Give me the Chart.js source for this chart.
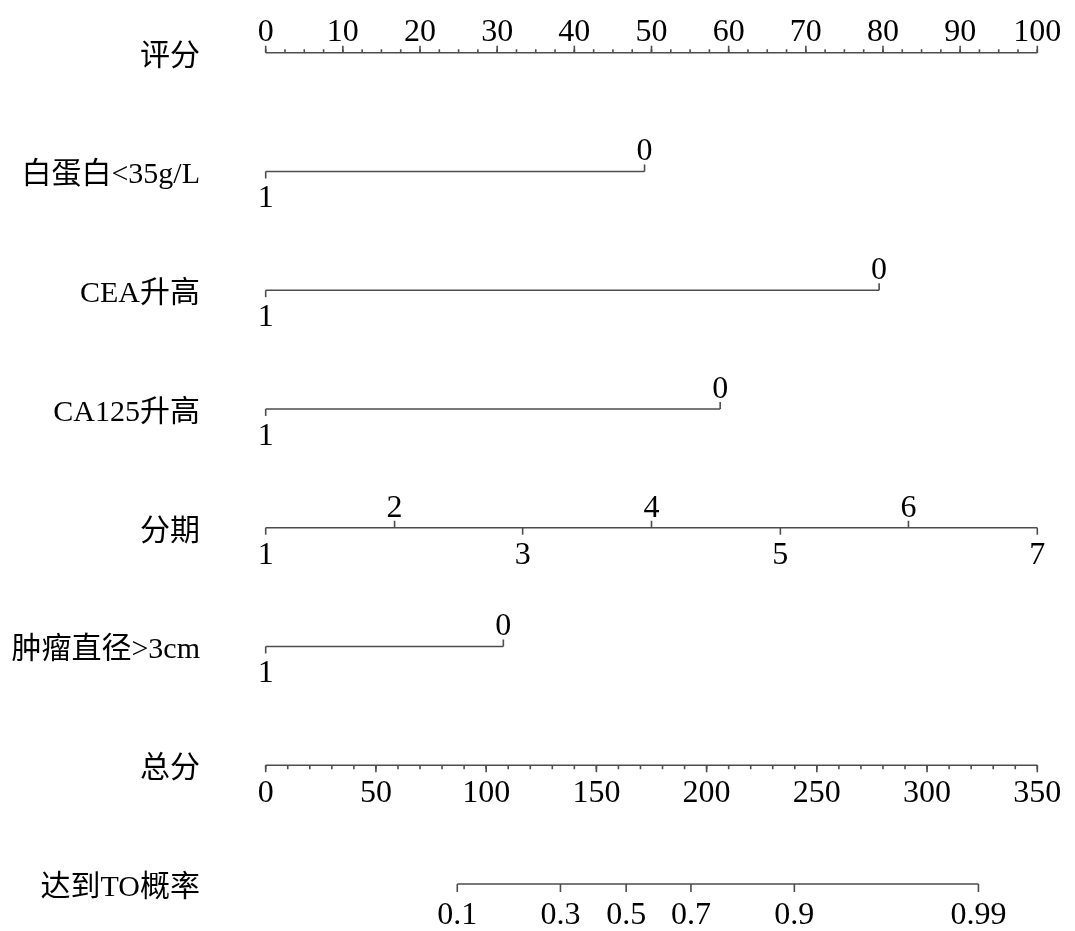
<!DOCTYPE html>
<html>
<head>
<meta charset="utf-8">
<script src="https://cdn.jsdelivr.net/npm/chart.js@4.4.1/dist/chart.umd.min.js"></script>
<style>
	body { margin: 0; background: #fff; }
	#nomogram { display: block; }
</style>
</head>
<body>
<canvas id="nomogram" width="1075" height="931"></canvas>
<script>
	// rows of the nomogram, top to bottom
	const rowNames = ["评分", "白蛋白<35g/L", "CEA升高", "CA125升高", "分期", "肿瘤直径>3cm", "总分", "达到TO概率"];

	// points scale
	const pointTicks = [0, 10, 20, 30, 40, 50, 60, 70, 80, 90, 100];
	const pointMinorStep = 2.5;

	// predictors: level labels and the points they give
	const albuminLevels = ["1", "0"];
	const albuminPoints = [0, 49.1];
	const ceaLevels = ["1", "0"];
	const ceaPoints = [0, 79.5];
	const ca125Levels = ["1", "0"];
	const ca125Points = [0, 58.9];
	const stageLevels = ["1", "2", "3", "4", "5", "6", "7"];
	const stagePoints = [0, 16.7, 33.3, 50, 66.7, 83.3, 100];
	const tumorLevels = ["1", "0"];
	const tumorPoints = [0, 30.8];

	// total points scale
	const totalTicks = [0, 50, 100, 150, 200, 250, 300, 350];
	const totalMinorStep = 10;

	// probability scale, placed on total points
	const probLabels = ["0.1", "0.3", "0.5", "0.7", "0.9", "0.99"];
	const probTotalPoints = [86.9, 133.7, 163.5, 192.9, 239.8, 323.3];

	const predictors = [
		{ row: 1, levels: albuminLevels, points: albuminPoints },
		{ row: 2, levels: ceaLevels, points: ceaPoints },
		{ row: 3, levels: ca125Levels, points: ca125Points },
		{ row: 4, levels: stageLevels, points: stagePoints },
		{ row: 5, levels: tumorLevels, points: tumorPoints },
	];

	const lineColor = "#4d4d4d";
	const textColor = "#000";
	const numFont = '32px "Liberation Serif", serif';
	const nameFont = '30px "Liberation Serif", "Noto Sans CJK SC", serif';

	function segment(xs, row, axis) {
		return {
			data: [
				{ x: Math.min(...xs), y: row },
				{ x: Math.max(...xs), y: row },
			],
			xAxisID: axis,
			borderColor: lineColor,
			borderWidth: 1.6,
			pointRadius: 0,
			showLine: true,
			clip: false,
		};
	}

	const datasets = [segment(pointTicks, 0, "x")];
	predictors.forEach((p) => datasets.push(segment(p.points, p.row, "x")));
	datasets.push(segment(totalTicks, 6, "xTotal"));
	datasets.push(segment(probTotalPoints, 7, "xTotal"));

	function tick(ctx, px, py, len) {
		ctx.beginPath();
		ctx.moveTo(px, py);
		ctx.lineTo(px, py + len);
		ctx.stroke();
	}

	const nomogramMarks = {
		id: "nomogramMarks",
		afterDatasetsDraw(chart) {
			const { ctx } = chart;
			const x = chart.scales.x;
			const xt = chart.scales.xTotal;
			const y = chart.scales.y;

			ctx.save();
			ctx.strokeStyle = lineColor;
			ctx.lineWidth = 1.6;
			ctx.fillStyle = textColor;
			ctx.textAlign = "center";
			ctx.textBaseline = "alphabetic";
			ctx.font = numFont;

			// points scale: ticks up, labels above
			let py = y.getPixelForValue(0);
			for (let v = 0; v <= 100; v += pointMinorStep) {
				tick(ctx, x.getPixelForValue(v), py, -3.5);
			}
			pointTicks.forEach((v) => {
				const px = x.getPixelForValue(v);
				tick(ctx, px, py, -7);
				ctx.fillText(String(v), px, py - 12);
			});

			// predictors: levels alternate below / above the line
			predictors.forEach((p) => {
				const ry = y.getPixelForValue(p.row);
				p.levels.forEach((lab, i) => {
					const px = x.getPixelForValue(p.points[i]);
					if (i % 2 === 0) {
						tick(ctx, px, ry, 7);
						ctx.fillText(lab, px, ry + 36);
					} else {
						tick(ctx, px, ry, -7);
						ctx.fillText(lab, px, ry - 11);
					}
				});
			});

			// total points: ticks down, labels below
			py = y.getPixelForValue(6);
			for (let v = 0; v <= 350; v += totalMinorStep) {
				tick(ctx, xt.getPixelForValue(v), py, 4);
			}
			totalTicks.forEach((v) => {
				const px = xt.getPixelForValue(v);
				tick(ctx, px, py, 7);
				ctx.fillText(String(v), px, py + 37);
			});

			// probability
			py = y.getPixelForValue(7);
			probLabels.forEach((lab, i) => {
				const px = xt.getPixelForValue(probTotalPoints[i]);
				tick(ctx, px, py, 8);
				ctx.fillText(lab, px, py + 40);
			});

			// row names
			ctx.font = nameFont;
			ctx.textAlign = "right";
			ctx.textBaseline = "middle";
			rowNames.forEach((name, i) => {
				ctx.fillText(name, 200, y.getPixelForValue(i) + 4);
			});
			ctx.restore();
		},
	};

	new Chart(document.getElementById("nomogram"), {
		type: "scatter",
		data: { datasets },
		options: {
			responsive: false,
			animation: false,
			layout: {
				autoPadding: false,
				padding: { left: 265.7, right: 37.7, top: 52.7, bottom: 47 },
			},
			scales: {
				x: { type: "linear", min: 0, max: 100, display: false },
				xTotal: { type: "linear", axis: "x", min: 0, max: 350, display: false },
				y: { type: "linear", min: 0, max: 7, reverse: true, display: false },
			},
			plugins: {
				legend: { display: false },
				tooltip: { enabled: false },
			},
		},
		plugins: [nomogramMarks],
	});
</script>
</body>
</html>
